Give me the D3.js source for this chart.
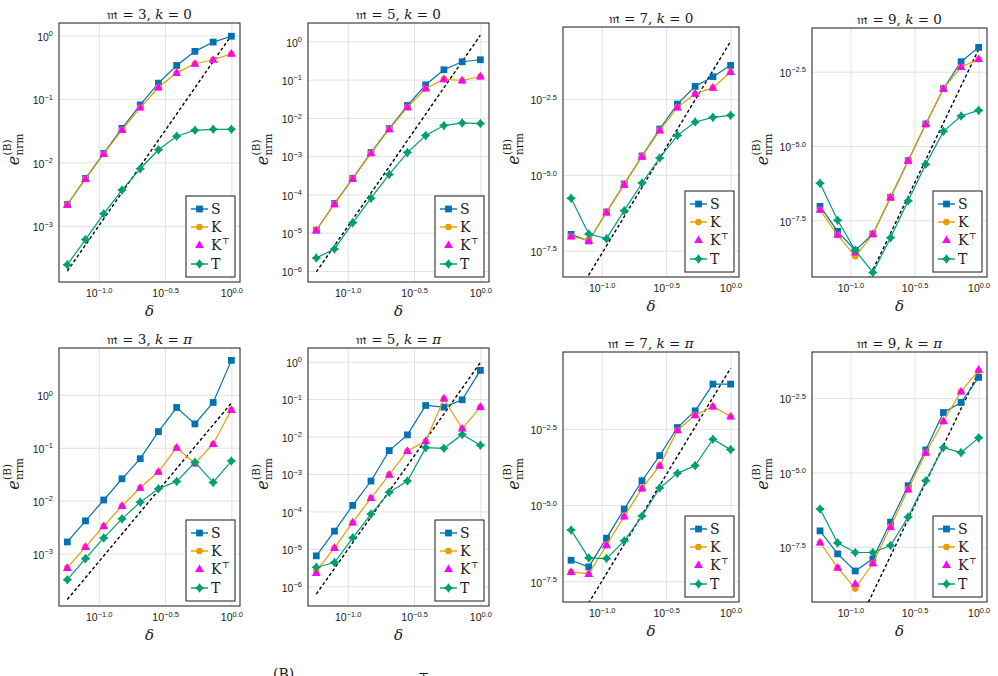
<!DOCTYPE html>
<html>
<head>
<meta charset="utf-8">
<script src="https://cdn.jsdelivr.net/npm/d3@7"></script>
<style>
body { margin: 0; background: #fff; }
svg text { font-family: "Liberation Sans", Arial, sans-serif; fill: #1a1a1a; }
svg .serif { font-family: "DejaVu Serif", "Liberation Serif", serif; }
</style>
</head>
<body>
<svg id="fig" width="998" height="676"></svg>
<script>
// step sizes (same for every panel)
var delta = [0.0579, 0.0794, 0.109, 0.1496, 0.2054, 0.2818, 0.3868, 0.531, 0.729, 1.0];

// m = 3, k = 0
var m3k0S = [0.00217, 0.00559, 0.01387, 0.0344, 0.0804, 0.177, 0.336, 0.56, 0.785, 0.97];
var m3k0K = [0.00215, 0.00546, 0.01354, 0.0324, 0.073, 0.151, 0.257, 0.357, 0.413, 0.514];
var m3k0KT = [0.00215, 0.00546, 0.01354, 0.0324, 0.073, 0.151, 0.257, 0.357, 0.413, 0.514];
var m3k0T = [0.000245, 0.000608, 0.00155, 0.00366, 0.00794, 0.0158, 0.0258, 0.032, 0.0332, 0.0332];

// m = 5, k = 0
var m5k0S = [1.16e-5, 5.8e-5, 2.62e-4, 1.24e-3, 5.25e-3, 0.021, 0.0733, 0.181, 0.293, 0.331];
var m5k0K = [1.16e-5, 5.58e-5, 2.57e-4, 1.19e-3, 5.05e-3, 0.019, 0.0587, 0.103, 0.095, 0.121];
var m5k0KT = [1.16e-5, 5.58e-5, 2.57e-4, 1.19e-3, 5.05e-3, 0.019, 0.0587, 0.103, 0.095, 0.121];
var m5k0T = [2.19e-6, 3.77e-6, 1.81e-5, 8.0e-5, 3.34e-4, 1.24e-3, 3.45e-3, 6.3e-3, 7.4e-3, 7.11e-3];

// m = 7, k = 0
var m7k0S = [1.09e-7, 6.6e-8, 5.96e-7, 4.99e-6, 4.18e-5, 3.24e-4, 2.16e-3, 8.28e-3, 0.0172, 0.0407];
var m7k0K = [9.4e-8, 6.76e-8, 5.8e-7, 4.74e-6, 3.97e-5, 2.93e-4, 1.68e-3, 4.74e-3, 7.48e-3, 0.0245];
var m7k0KT = [9.4e-8, 6.76e-8, 5.8e-7, 4.74e-6, 3.97e-5, 2.93e-4, 1.68e-3, 4.74e-3, 7.48e-3, 0.0245];
var m7k0T = [1.68e-6, 1.12e-7, 7.87e-8, 6.59e-7, 5.38e-6, 3.59e-5, 2.0e-4, 5.52e-4, 7.87e-4, 9.16e-4];

// m = 9, k = 0
var m9k0S = [9.35e-8, 1.35e-8, 3.1e-9, 1.1e-8, 1.87e-7, 3.21e-6, 5.5e-5, 8.47e-4, 6.85e-3, 0.0208];
var m9k0K = [7.03e-8, 1.01e-8, 1.95e-9, 1.07e-8, 1.83e-7, 3.13e-6, 5.35e-5, 8.47e-4, 4.54e-3, 8.22e-3];
var m9k0KT = [7.2e-8, 1.04e-8, 2.65e-9, 1.1e-8, 1.87e-7, 3.21e-6, 5.5e-5, 8.47e-4, 4.54e-3, 8.4e-3];
var m9k0T = [5.55e-7, 3.16e-8, 3.1e-9, 5.6e-10, 8.26e-9, 1.45e-7, 2.42e-6, 3.11e-5, 1.02e-4, 1.58e-4];

// m = 3, k = pi
var m3kpS = [0.00166, 0.00415, 0.0103, 0.0259, 0.0621, 0.202, 0.575, 0.282, 0.716, 4.47];
var m3kpK = [5.37e-4, 1.34e-3, 3.31e-3, 7.94e-3, 0.0175, 0.0351, 0.1, 0.0505, 0.1175, 0.52];
var m3kpKT = [5.37e-4, 1.34e-3, 3.31e-3, 7.94e-3, 0.0175, 0.0351, 0.1, 0.0505, 0.1175, 0.52];
var m3kpT = [3.21e-4, 8.03e-4, 1.98e-3, 4.53e-3, 9.38e-3, 0.0168, 0.0231, 0.053, 0.0221, 0.0561];

// m = 5, k = pi
var m5kpS = [6.49e-6, 2.97e-5, 1.45e-4, 6.49e-4, 4.22e-3, 0.0111, 0.0676, 0.061, 0.096, 0.586];
var m5kpK = [2.58e-6, 1.06e-5, 5.07e-5, 2.28e-4, 9.6e-4, 4.13e-3, 7.5e-3, 0.102, 0.0164, 0.061];
var m5kpKT = [2.28e-6, 1.06e-5, 5.07e-5, 2.28e-4, 9.6e-4, 4.13e-3, 7.5e-3, 0.105, 0.0164, 0.062];
var m5kpT = [3.23e-6, 4.3e-6, 1.97e-5, 8.48e-5, 3.23e-4, 6.49e-4, 5.07e-3, 4.86e-3, 0.0113, 5.86e-3];

// m = 7, k = pi
var m7kpS = [1.55e-7, 9.35e-8, 8.2e-7, 7.38e-6, 6.3e-5, 4.2e-4, 3.5e-3, 0.01236, 0.0931, 0.0931];
var m7kpK = [6.4e-8, 5.5e-8, 4.83e-7, 4.24e-6, 3.53e-5, 1.97e-4, 2.86e-3, 8.91e-3, 0.0172, 8.05e-3];
var m7kpKT = [6.4e-8, 5.5e-8, 4.83e-7, 4.24e-6, 3.53e-5, 1.97e-4, 2.86e-3, 8.91e-3, 0.0172, 8.05e-3];
var m7kpT = [1.51e-6, 1.85e-7, 1.76e-7, 6.7e-7, 4.35e-6, 3.62e-5, 1.1e-4, 1.97e-4, 1.45e-3, 6.6e-4];

// m = 9, k = pi
var m9kpS = [1.09e-7, 1.84e-8, 4.9e-9, 1.25e-8, 2.14e-7, 3.6e-6, 5.73e-5, 1.04e-3, 2.26e-3, 0.01574];
var m9kpK = [4.43e-8, 6.35e-9, 1.25e-9, 8.9e-9, 1.49e-7, 2.71e-6, 4.6e-5, 5.31e-4, 5.31e-3, 0.0264];
var m9kpKT = [4.43e-8, 6.35e-9, 1.84e-9, 8.9e-9, 1.49e-7, 2.71e-6, 4.6e-5, 5.31e-4, 5.31e-3, 0.0285];
var m9kpT = [5.9e-7, 4.3e-8, 2.04e-8, 2.04e-8, 3.5e-8, 3.16e-7, 5.24e-6, 6.88e-5, 4.67e-5, 1.46e-4];

// reference slope lines C * delta^m
var refCoef = [1.0, 1.45, 0.25, 0.0178, 0.7, 0.95, 0.31, 0.024];

// tick exponents
var xTickExp = [-1.0, -0.5, 0.0];
var yTicksInt3 = [0, -1, -2, -3];
var yTicksInt6 = [0, -1, -2, -3, -4, -5, -6];
var yTicksHalf = [-2.5, -5.0, -7.5];

var seriesNames = ["S", "K", "K\u22a4", "T"];
var colors = { S: "#0072B2", K: "#E69F00", KT: "#FF00FF", T: "#009E73" };

var panels = [
    { m: 3, k: "0", data: [m3k0S, m3k0K, m3k0KT, m3k0T], ref: refCoef[0], box: [59, 23, 240, 282], ylim: [-3.884, 0.195], yt: yTicksInt3, dec: 0 },
    { m: 5, k: "0", data: [m5k0S, m5k0K, m5k0KT, m5k0T], ref: refCoef[1], box: [308, 23, 489, 282], ylim: [-6.288, 0.48], yt: yTicksInt6, dec: 0 },
    { m: 7, k: "0", data: [m7k0S, m7k0K, m7k0KT, m7k0T], ref: refCoef[2], box: [563, 27, 739, 277], ylim: [-8.368, -0.126], yt: yTicksHalf, dec: 1 },
    { m: 9, k: "0", data: [m9k0S, m9k0K, m9k0KT, m9k0T], ref: refCoef[3], box: [812, 28, 987, 277], ylim: [-9.406, -1.031], yt: yTicksHalf, dec: 1 },
    { m: 3, k: "\u03c0", data: [m3kpS, m3kpK, m3kpKT, m3kpT], ref: refCoef[4], box: [59, 348, 240, 606], ylim: [-3.99, 0.884], yt: yTicksInt3, dec: 0 },
    { m: 5, k: "\u03c0", data: [m5kpS, m5kpK, m5kpKT, m5kpT], ref: refCoef[5], box: [308, 348, 489, 606], ylim: [-6.527, 0.366], yt: yTicksInt6, dec: 0 },
    { m: 7, k: "\u03c0", data: [m7kpS, m7kpK, m7kpKT, m7kpT], ref: refCoef[6], box: [563, 352, 739, 602], ylim: [-8.18, 0.022], yt: yTicksHalf, dec: 1 },
    { m: 9, k: "\u03c0", data: [m9kpS, m9kpK, m9kpKT, m9kpT], ref: refCoef[7], box: [812, 352, 987, 602], ylim: [-9.354, -0.949], yt: yTicksHalf, dec: 1 },
];

var svg = d3.select("#fig");
svg.append("rect").attr("width", 998).attr("height", 676).attr("fill", "#fff");

function fmtExp(e, dec) {
    var s = Math.abs(e).toFixed(dec);
    return (e < 0 ? "\u2212" : "") + s;
}

function star4(r) {
    var k = 0.42 * r;
    return "M0," + -r + "L" + k + "," + -k + "L" + r + ",0L" + k + "," + k +
        "L0," + r + "L" + -k + "," + k + "L" + -r + ",0L" + -k + "," + -k + "Z";
}

function drawMarker(g, kind, cx, cy) {
    if (kind === "S") {
        g.append("path").attr("d", d3.symbol(d3.symbolSquare, 46)())
            .attr("transform", "translate(" + cx + "," + cy + ")").attr("fill", colors.S);
    } else if (kind === "K") {
        g.append("circle").attr("cx", cx).attr("cy", cy).attr("r", 3.3).attr("fill", colors.K);
    } else if (kind === "KT") {
        g.append("path").attr("d", d3.symbol(d3.symbolTriangle, 34)())
            .attr("transform", "translate(" + cx + "," + (cy + 0.5) + ")").attr("fill", colors.KT);
    } else {
        g.append("path").attr("d", star4(4.8))
            .attr("transform", "translate(" + cx + "," + cy + ")").attr("fill", colors.T);
    }
}

function drawPanel(p, idx) {
    var x0 = p.box[0], y0 = p.box[1], x1 = p.box[2], y1 = p.box[3];
    var x = d3.scaleLog().domain([Math.pow(10, -1.30), Math.pow(10, 0.065)]).range([x0, x1]);
    var y = d3.scaleLog().domain([Math.pow(10, p.ylim[0]), Math.pow(10, p.ylim[1])]).range([y1, y0]);
    var g = svg.append("g");

    var cid = "clip" + idx;
    g.append("clipPath").attr("id", cid).append("rect")
        .attr("x", x0).attr("y", y0).attr("width", x1 - x0).attr("height", y1 - y0);

    // x grid + labels
    var xa = d3.axisBottom(x).tickValues(xTickExp.map(e => Math.pow(10, e)))
        .tickSize(-(y1 - y0)).tickPadding(8).tickFormat("");
    var gx = g.append("g").attr("transform", "translate(0," + y1 + ")").call(xa);
    gx.select(".domain").remove();
    gx.selectAll(".tick line").attr("stroke", "#e2e2e2").attr("stroke-width", 1);
    gx.selectAll(".tick text").each(function (d, i) {
        var t = d3.select(this).attr("font-size", 10.5).attr("fill", "#1a1a1a");
        t.append("tspan").text("10");
        t.append("tspan").attr("dy", -4.5).attr("font-size", 7.5).text(fmtExp(xTickExp[i], 1));
    });

    // y grid + labels
    var ya = d3.axisLeft(y).tickValues(p.yt.map(e => Math.pow(10, e)))
        .tickSize(-(x1 - x0)).tickPadding(6).tickFormat("");
    var gy = g.append("g").attr("transform", "translate(" + x0 + ",0)").call(ya);
    gy.select(".domain").remove();
    gy.selectAll(".tick line").attr("stroke", "#e2e2e2").attr("stroke-width", 1);
    gy.selectAll(".tick text").each(function (d, i) {
        var t = d3.select(this).attr("font-size", 10.5).attr("fill", "#1a1a1a").attr("dy", "0.45em");
        t.append("tspan").text("10");
        t.append("tspan").attr("dy", -4.5).attr("font-size", 7.5).text(fmtExp(p.yt[i], p.dec));
    });

    var plot = g.append("g").attr("clip-path", "url(#" + cid + ")");

    // reference line
    var refPts = [delta[0], delta[delta.length - 1]].map(d => [d, p.ref * Math.pow(d, p.m)]);
    plot.append("path")
        .attr("d", d3.line().x(d => x(d[0])).y(d => y(d[1]))(refPts))
        .attr("fill", "none").attr("stroke", "#000").attr("stroke-width", 1.4)
        .attr("stroke-dasharray", "3.2,2.4");

    var line = d3.line().x((d, i) => x(delta[i])).y(d => y(d));
    var keys = ["S", "K", "KT", "T"];
    keys.forEach(function (key, s) {
        var vals = p.data[s];
        if (key !== "KT") {
            plot.append("path").attr("d", line(vals)).attr("fill", "none")
                .attr("stroke", colors[key]).attr("stroke-width", 1.2);
        }
        vals.forEach(function (v, i) { drawMarker(plot, key, x(delta[i]), y(v)); });
    });

    // frame
    g.append("rect").attr("x", x0).attr("y", y0).attr("width", x1 - x0).attr("height", y1 - y0)
        .attr("fill", "none").attr("stroke", "#1a1a1a").attr("stroke-width", 1);

    // title
    var cx = (x0 + x1) / 2;
    var title = g.append("text").attr("class", "serif").attr("x", cx).attr("y", y0 - 4)
        .attr("text-anchor", "middle").attr("font-size", 13.5);
    title.append("tspan").text("\ud835\udd2a");
    title.append("tspan").text(" = " + p.m + ", ");
    title.append("tspan").attr("font-style", "italic").text("k");
    title.append("tspan").text(" = ");
    title.append("tspan").attr("font-style", p.k === "0" ? "normal" : "italic").text(p.k);

    // x label
    g.append("text").attr("class", "serif").attr("x", cx).attr("y", y1 + 34)
        .attr("text-anchor", "middle").attr("font-size", 15).attr("font-style", "italic").text("\u03b4");

    // y label e_nrm^(B)
    var off = p.dec ? 44 : 40;
    var yl = g.append("g").attr("transform", "translate(" + (x0 - off) + "," + ((y0 + y1) / 2 - 3) + ") rotate(-90)");
    var eT = yl.append("text").attr("class", "serif").attr("font-style", "italic").attr("font-size", 16).text("e");
    var ew = eT.node().getComputedTextLength();
    var sub = yl.append("text").attr("class", "serif").attr("font-size", 10.5).attr("x", ew + 0.5).attr("y", 3.5).text("nrm");
    var sup = yl.append("text").attr("class", "serif").attr("font-size", 10.5).attr("x", ew + 0.5).attr("y", -8).text("(B)");
    var w = ew + 0.5 + Math.max(sub.node().getComputedTextLength(), sup.node().getComputedTextLength());
    yl.selectAll("text").attr("transform", "translate(" + (-w / 2) + ",0)");

    // legend
    var lw = 49, lh = 81;
    var lx = x1 - 5 - lw, ly = y1 - 5 - lh;
    var lg = g.append("g");
    lg.append("rect").attr("x", lx).attr("y", ly).attr("width", lw).attr("height", lh)
        .attr("fill", "#fff").attr("stroke", "#1a1a1a").attr("stroke-width", 1);
    var rowOff = [13, 31, 49, 68];
    keys.forEach(function (key, s) {
        var ry = ly + rowOff[s];
        if (key !== "KT") {
            lg.append("line").attr("x1", lx + 5).attr("x2", lx + 22).attr("y1", ry).attr("y2", ry)
                .attr("stroke", colors[key]).attr("stroke-width", 1.4);
        }
        drawMarker(lg, key, lx + 13.5, ry);
        var t = lg.append("text").attr("class", "serif").attr("x", lx + 25).attr("y", ry + 5).attr("font-size", 14);
        if (key === "KT") {
            t.append("tspan").text("K");
            t.append("tspan").attr("dy", -6).attr("font-size", 9).text("\u22a4");
        } else {
            t.text(seriesNames[s]);
        }
    });
}

panels.forEach(drawPanel);

// caption (cut off at the bottom edge: only the tops of superscripts show)
var cap = svg.append("text").attr("class", "serif").attr("y", 691).attr("font-size", 15).attr("fill", "#444");
cap.append("tspan").attr("x", 272).attr("text-anchor", "end").text("Figure 6: Normalized errors e");
var cap2 = svg.append("text").attr("class", "serif").attr("y", 691).attr("font-size", 15).attr("fill", "#444");
cap2.append("tspan").attr("x", 273).attr("dy", -12).attr("font-size", 14).text("(B)");
cap2.append("tspan").attr("dy", 12).attr("font-size", 15).text(" for B \u2208 {S, K, K");
cap2.append("tspan").attr("dy", -10).attr("font-size", 12).text("\u22a4");
cap2.append("tspan").attr("dy", 10).attr("font-size", 15).text(", T} plotted against \u03b4 (log\u2013log) for each m and k.");
</script>
</body>
</html>
